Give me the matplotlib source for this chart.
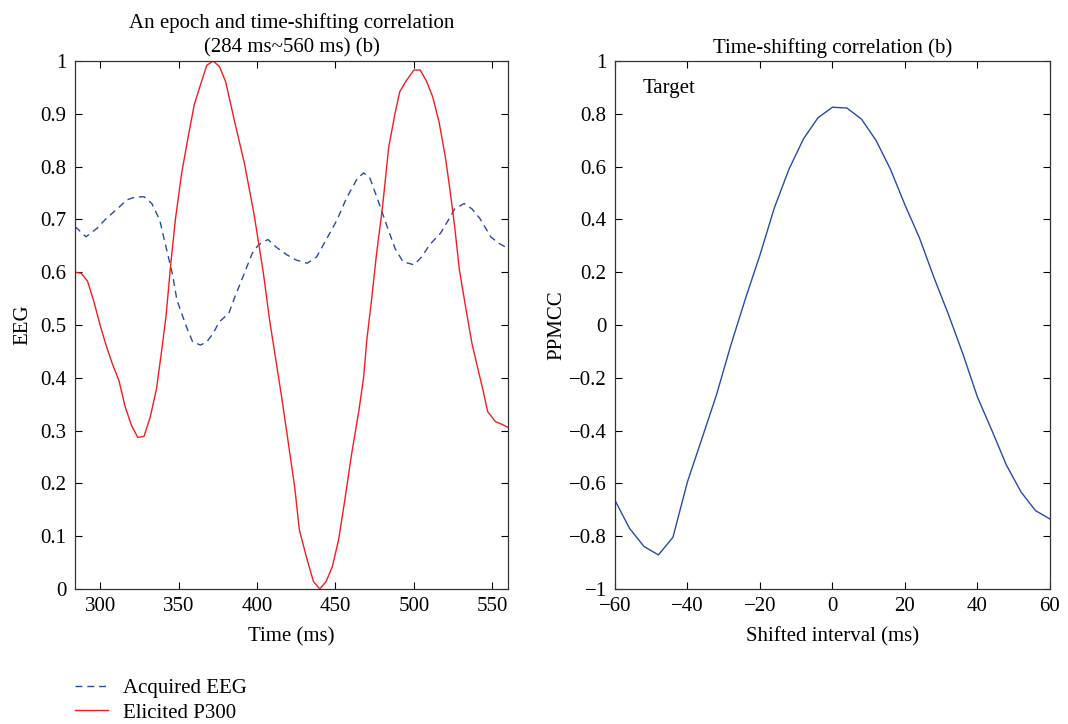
import matplotlib
matplotlib.use('Agg')
import matplotlib.pyplot as plt
from matplotlib.ticker import FuncFormatter, MultipleLocator

# left panel: acquired EEG (dashed) and elicited P300 (solid)
eeg_t = [284, 285, 291, 298, 304, 311, 317, 322, 328, 333, 338, 342, 346, 349,
         355, 359, 364, 368, 372, 376, 382, 386, 391, 397, 401, 407, 412, 419,
         425, 432, 438, 444, 451, 457, 464, 468, 472, 477, 483, 488, 493, 500,
         505, 510, 517, 522, 526, 532, 537, 542, 549, 554, 560]
eeg_v = [0.682, 0.684, 0.667, 0.683, 0.702, 0.72, 0.737, 0.742, 0.743, 0.73,
         0.699, 0.648, 0.598, 0.547, 0.497, 0.468, 0.462, 0.468, 0.484, 0.506,
         0.522, 0.554, 0.591, 0.636, 0.652, 0.662, 0.648, 0.633, 0.623, 0.617,
         0.629, 0.661, 0.699, 0.74, 0.778, 0.788, 0.778, 0.737, 0.686, 0.645,
         0.62, 0.614, 0.629, 0.652, 0.674, 0.699, 0.72, 0.73, 0.72, 0.702,
         0.667, 0.655, 0.645]

p300_t = [284, 288, 292, 296, 300, 304, 308, 312, 316, 320, 324, 328, 332, 336,
          339, 342, 345, 348, 352, 356, 360, 364, 368, 372, 376, 380, 386, 392,
          398, 404, 408, 412, 416, 420, 424, 427, 432, 436, 440, 444, 448, 452,
          456, 460, 465, 468, 470, 473, 476, 480, 484, 488, 491, 495, 500, 504,
          508, 512, 516, 520, 523, 526, 529, 534, 537, 540, 544, 547, 552, 556,
          560]
p300_v = [0.600, 0.598, 0.583, 0.545, 0.50, 0.46, 0.425, 0.395, 0.345, 0.31,
          0.287, 0.289, 0.326, 0.38, 0.446, 0.516, 0.614, 0.70, 0.788, 0.854,
          0.917, 0.955, 0.992, 1.0, 0.99, 0.961, 0.882, 0.806, 0.712, 0.60,
          0.51, 0.434, 0.358, 0.276, 0.194, 0.112, 0.055, 0.014, 0.0, 0.014,
          0.042, 0.093, 0.169, 0.25, 0.339, 0.402, 0.472, 0.547, 0.63, 0.724,
          0.838, 0.901, 0.942, 0.962, 0.983, 0.983, 0.962, 0.932, 0.885, 0.819,
          0.756, 0.686, 0.604, 0.516, 0.465, 0.427, 0.377, 0.336, 0.317, 0.312,
          0.306]

# right panel: correlation vs. shift
shift = list(range(-60, 61, 4))
ppmcc = [-0.664, -0.77, -0.839, -0.871, -0.804, -0.594, -0.43, -0.265, -0.075,
         0.10, 0.265, 0.445, 0.59, 0.705, 0.785, 0.825, 0.822, 0.78, 0.70,
         0.59, 0.455, 0.33, 0.18, 0.04, -0.11, -0.273, -0.40, -0.531, -0.632,
         -0.703, -0.735]

plt.rcParams['font.family'] = ['Liberation Serif', 'DejaVu Serif']
plt.rcParams['font.size'] = 15

red = '#f01e1e'
blue = '#2b4aa5'


def fmt(v, pos):
    s = '%g' % round(v, 3)
    return s.replace('-', '\u2212')


def style(ax):
    ax.tick_params(direction='in', top=True, right=True, length=5,
                   width=0.8, labelsize=15, pad=6)
    for sp in ax.spines.values():
        sp.set_linewidth(0.9)
        sp.set_color('#333333')
    ax.yaxis.set_major_formatter(FuncFormatter(fmt))
    ax.xaxis.set_major_formatter(FuncFormatter(fmt))


fig = plt.figure(figsize=(10.68, 7.24), dpi=100)
ax1 = fig.add_axes([0.0702, 0.1865, 0.4055, 0.7292])
ax2 = fig.add_axes([0.5758, 0.1865, 0.4073, 0.7292])

l1, = ax1.plot(eeg_t, eeg_v, color=blue, lw=1.0, dashes=(5, 3.5),
               label='Acquired EEG')
l2, = ax1.plot(p300_t, p300_v, color=red, lw=1.0, label='Elicited P300')
ax1.set_xlim(284, 560)
ax1.set_ylim(0, 1)
ax1.xaxis.set_major_locator(MultipleLocator(50))
ax1.yaxis.set_major_locator(MultipleLocator(0.1))
style(ax1)
ax1.set_xlabel('Time (ms)', labelpad=8)
ax1.set_ylabel('EEG', labelpad=6)
ax1.set_title('An epoch and time-shifting correlation\n(284 ms~560 ms) (b)',
              fontsize=15, pad=6, linespacing=1.4)

ax2.plot(shift, ppmcc, color=blue, lw=1.0)
ax2.set_xlim(-60, 60)
ax2.set_ylim(-1, 1)
ax2.xaxis.set_major_locator(MultipleLocator(20))
ax2.yaxis.set_major_locator(MultipleLocator(0.2))
style(ax2)
ax2.set_xlabel('Shifted interval (ms)', labelpad=8)
ax2.set_ylabel('PPMCC', labelpad=2)
ax2.set_title('Time-shifting correlation (b)', fontsize=15, pad=6)
ax2.text(-52.5, 0.895, 'Target', fontsize=15, ha='left', va='center')

fig.legend(handles=[l1, l2], loc='upper left', bbox_to_anchor=(0.0702, 0.063),
           frameon=False, fontsize=15, handlelength=1.6, handletextpad=0.7,
           labelspacing=0.25, borderpad=0.0, borderaxespad=0.0)

fig.savefig('out.png', dpi=100)
